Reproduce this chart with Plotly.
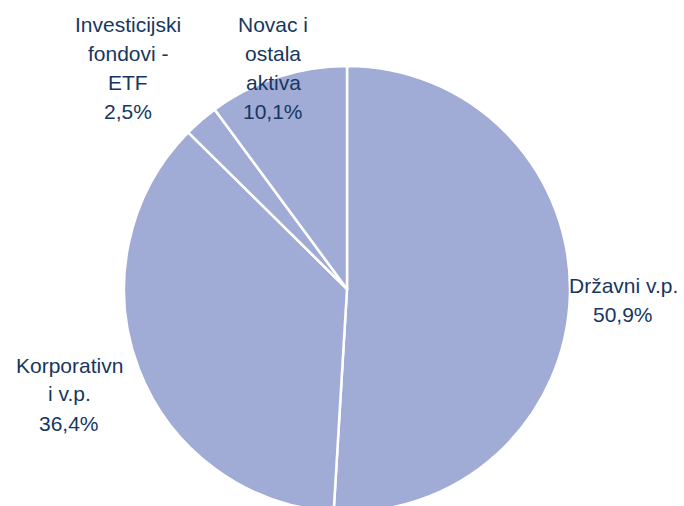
import plotly.graph_objects as go

categories = ["Državni v.p.", "Korporativni v.p.", "Investicijski fondovi - ETF", "Novac i ostala aktiva"]
label_lines = [["Državni v.p."], ["Korporativn", "i v.p."], ["Investicijski", "fondovi -", "ETF"], ["Novac i", "ostala", "aktiva"]]
values = [50.9, 36.4, 2.5, 10.1]
value_labels = ["50,9%", "36,4%", "2,5%", "10,1%"]

W, H = 684, 530  # figure taller than the 506 view so the pie bottom is cut off as in the original
# label block anchors in pixels: (center x, first line center y)
label_px = [(623, 285), (69, 365), (128, 25), (273, 25)]
LINE_H = 29

TEXT_COLOR = "#17375E"
FONT = "Liberation Sans, Arial, sans-serif"

fig = go.Figure(go.Pie(
    labels=categories,
    values=values,
    sort=False,
    direction="clockwise",
    rotation=0,
    marker=dict(colors=["#A0ACD6"] * 4, line=dict(color="white", width=2.5)),
    textinfo="none",
    hoverinfo="label+percent",
    showlegend=False,
    domain=dict(x=[124 / W, 570 / W], y=[1 - 512 / H, 1 - 66 / H]),
))

for lines, lab, (cx, cy) in zip(label_lines, value_labels, label_px):
    for i, t in enumerate(lines + [lab]):
        fig.add_annotation(
            x=cx / W, y=1 - (cy + i * LINE_H) / H, xref="paper", yref="paper",
            text=t, showarrow=False,
            font=dict(family=FONT, size=21, color=TEXT_COLOR),
            align="center", xanchor="center", yanchor="middle",
        )

fig.update_layout(
    width=W, height=H,
    margin=dict(l=0, r=0, t=0, b=0),
    paper_bgcolor="white", plot_bgcolor="white",
    font=dict(family=FONT, color=TEXT_COLOR),
)

fig.write_html("out.html", config={"displayModeBar": False},
               post_script="document.body.style.margin='0';document.body.style.overflow='hidden';document.documentElement.style.overflow='hidden';")
